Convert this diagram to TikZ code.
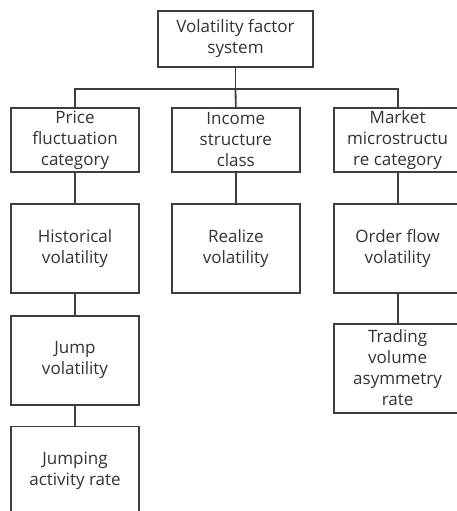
\documentclass[tikz,border=0pt]{standalone}
\usepackage{fontspec}
\setmainfont{Open Sans}
\usetikzlibrary{positioning}
\definecolor{borde}{HTML}{3C3F42}
\definecolor{texto}{HTML}{333333}

\tikzset{
  factor/.style={draw=borde,line width=1.8pt,fill=white,text=texto,align=center,
    minimum width=128pt,minimum height=89pt,inner sep=2pt,
    font=\fontsize{17}{21}\selectfont},
  clase/.style={factor,minimum height=64pt},
  enlace/.style={draw=borde,line width=1.8pt}
}

\begin{document}
\begin{tikzpicture}[x=1pt,y=1pt,node distance=30pt and 31pt]
      \clip (0,0) rectangle (457,-511);
      \node[factor,minimum width=155pt,minimum height=56pt] (sistema) at (235.5,-39) {Volatility factor\\system};
      \node[clase] (precio) at (75,-140) {Price\\fluctuation\\category};
      \node[clase,right=of precio] (ingreso) {Income\\structure\\class};
      \node[clase,right=32pt of ingreso] (mercado) {Market\\microstructu\\re category};
      \node[factor,below=of precio] (historica) {Historical\\volatility};
      \node[factor,below=of ingreso] (realizada) {Realize\\volatility};
      \node[factor,below=of mercado] (flujo) {Order flow\\volatility};
      \node[factor,below=21pt of historica] (salto) {Jump\\volatility};
      \node[factor,below=20pt of salto] (actividad) {Jumping\\activity rate};
      \node[factor,below=29pt of flujo] (asimetria) {Trading\\volume\\asymmetry\\rate};
      \coordinate (barra) at (235.5,-89);
      \draw[enlace] (sistema.south) -- (barra);
      \draw[enlace] (barra) -| (precio.north);
      \draw[enlace] (barra) -- (ingreso.north);
      \draw[enlace] (barra) -| (mercado.north);
      \draw[enlace] (precio) -- (historica);
      \draw[enlace] (ingreso) -- (realizada);
      \draw[enlace] (mercado) -- (flujo);
      \draw[enlace] (historica) -- (salto);
      \draw[enlace] (salto) -- (actividad);
      \draw[enlace] (flujo) -- (asimetria);
    \end{tikzpicture}
\end{document}
